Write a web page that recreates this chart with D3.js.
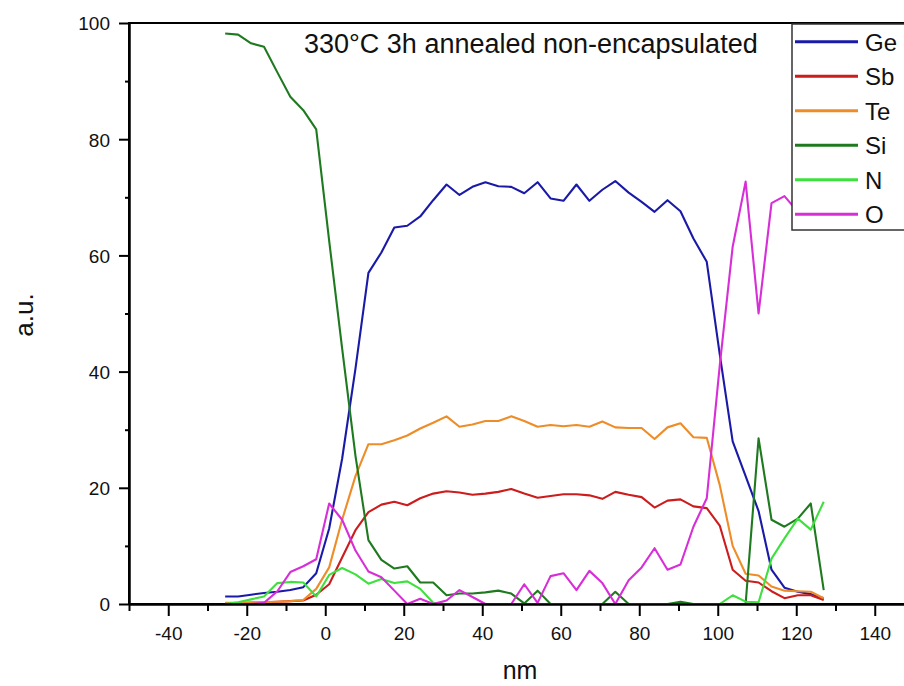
<!DOCTYPE html>
<html>
<head>
<meta charset="utf-8">
<script src="https://cdn.jsdelivr.net/npm/d3@7"></script>
<style>
  html, body { margin: 0; padding: 0; background: #fff; }
  svg { display: block; font-family: "Liberation Sans", Arial, sans-serif; }
</style>
</head>
<body>
<svg id="chart" width="904" height="686"></svg>
<script>
// ---- data ----
const depth = [-25.5,-22.2,-18.9,-15.6,-12.2,-8.9,-5.6,-2.3,1.0,4.3,7.7,11.0,14.3,17.6,20.9,24.2,27.5,30.9,34.2,37.5,40.8,44.1,47.4,50.7,54.1,57.4,60.7,64.0,67.3,70.6,73.9,77.3,80.6,83.9,87.2,90.5,93.8,97.2,100.5,103.8,107.1,110.4,113.7,117.0,120.4,123.7,127.0];

const Ge = [1.3,1.3,1.6,1.9,2.1,2.4,2.9,5.3,13,25,40.5,57,60.5,64.8,65.1,66.7,69.5,72.2,70.4,71.8,72.6,71.9,71.8,70.7,72.6,69.8,69.4,72.2,69.4,71.3,72.8,70.8,69.2,67.5,69.5,67.6,62.9,58.9,43,28,22,16,5.9,2.8,2.1,1.7,1.0];
const Sb = [0.1,0.1,0.2,0.3,0.4,0.5,0.6,1.6,3.4,8.0,12.7,15.8,17.1,17.6,17.0,18.2,19.0,19.4,19.2,18.8,19.0,19.3,19.8,19.0,18.3,18.6,18.9,18.9,18.7,18.1,19.3,18.8,18.4,16.6,17.8,18.0,16.8,16.5,13.5,5.9,4.0,3.7,2.2,1.0,1.5,1.5,0.7];
const Te = [0.2,0.2,0.3,0.3,0.4,0.5,0.7,2.6,6.3,14.5,22,27.5,27.5,28.2,29,30.2,31.2,32.3,30.5,30.9,31.5,31.5,32.3,31.5,30.5,30.8,30.6,30.8,30.5,31.4,30.4,30.3,30.3,28.4,30.4,31.1,28.7,28.6,20.5,10,5.2,4.9,3.0,2.3,2.2,2.1,1.0];
const Si = [98.2,98.0,96.5,95.9,91.5,87.3,85.0,81.7,62.5,44,25.5,11,7.6,6.1,6.5,3.7,3.7,1.5,1.8,1.8,2.0,2.3,1.8,0.1,2.3,0,0,0,0,0,2.1,0,0,0,0,0.4,0,0,0,0,0,28.5,14.5,13.3,14.7,17.3,2.4];
const N  = [0,0.3,0.8,1.3,3.6,3.8,3.7,1.3,5.0,6.2,5.1,3.5,4.3,3.6,3.9,2.6,0.2,0,0,0,0,0,0,0,0,0,0,0,0,0,0,0,0,0,0,0,0,0,0,1.5,0.4,0.3,7.8,11.3,14.7,12.8,17.6];
const O  = [0,0,0,0.2,2.2,5.5,6.5,7.7,17.3,14.5,9.2,5.6,4.6,2.3,0,0.9,0,0.6,2.4,1.2,0,0,0,3.4,0.2,4.8,5.3,2.4,5.7,3.6,0,4.1,6.3,9.6,5.9,6.8,13.3,18.2,41,61.5,72.7,50,69,70.2,67.5,66,66];

const seriesNames = ["Ge","Sb","Te","Si","N","O"];
const seriesValues = [Ge, Sb, Te, Si, N, O];
const seriesColors = ["#1a1aa8","#cc1c1c","#ee8c28","#1f7a1f","#3ee03e","#d82ed8"];

const xMajorTicks = [-40,-20,0,20,40,60,80,100,120,140];
const xMinorTicks = [-50,-30,-10,10,30,50,70,90,110,130,150];
const yMajorTicks = [0,20,40,60,80,100];
const yMinorTicks = [10,30,50,70,90];

const titleText = "330°C 3h annealed non-encapsulated";
const xLabel = "nm";
const yLabel = "a.u.";

// ---- layout ----
const svg = d3.select("#chart");
const mLeft = 129, mTop = 23, plotW = 785, plotH = 581;
const x = d3.scaleLinear().domain([-50, 150]).range([mLeft, mLeft + plotW]);
const y = d3.scaleLinear().domain([0, 100]).range([mTop + plotH, mTop]);
const fmt = d => String(d);

// frame (top + right border)
svg.append("rect")
  .attr("x", mLeft).attr("y", mTop).attr("width", plotW).attr("height", plotH)
  .attr("fill", "none").attr("stroke", "#000").attr("stroke-width", 2);

// lines
const line = d3.line().x((d, i) => x(depth[i])).y(d => y(d));
const gLines = svg.append("g");
seriesValues.forEach((vals, k) => {
  gLines.append("path")
    .datum(vals)
    .attr("d", line)
    .attr("fill", "none")
    .attr("stroke", seriesColors[k])
    .attr("stroke-width", 2.1)
    .attr("stroke-linejoin", "round");
});

// axes
const xAxis = svg.append("g").attr("transform", `translate(0,${mTop + plotH})`)
  .call(d3.axisBottom(x).tickValues(xMajorTicks).tickSize(12).tickSizeOuter(0).tickPadding(11).tickFormat(fmt));
const xAxisMinor = svg.append("g").attr("transform", `translate(0,${mTop + plotH})`)
  .call(d3.axisBottom(x).tickValues(xMinorTicks).tickSize(7).tickSizeOuter(0).tickFormat(""));
const yAxis = svg.append("g").attr("transform", `translate(${mLeft},0)`)
  .call(d3.axisLeft(y).tickValues(yMajorTicks).tickSize(10).tickSizeOuter(0).tickPadding(9).tickFormat(fmt));
const yAxisMinor = svg.append("g").attr("transform", `translate(${mLeft},0)`)
  .call(d3.axisLeft(y).tickValues(yMinorTicks).tickSize(4).tickSizeOuter(0).tickFormat(""));

[xAxis, xAxisMinor, yAxis, yAxisMinor].forEach(g => {
  g.select(".domain").attr("stroke", "#000").attr("stroke-width", 2);
  g.selectAll(".tick line").attr("stroke", "#000").attr("stroke-width", 2);
  g.selectAll(".tick text").attr("fill", "#111").style("font-size", "19px")
    .style("font-family", '"Liberation Sans", Arial, sans-serif');
});
yAxis.selectAll(".tick text").attr("dy", "0.36em");

// title
svg.append("text").attr("x", 304).attr("y", 53)
  .style("font-size", "27px").attr("fill", "#111").text(titleText);

// axis titles
svg.append("text").attr("x", 520).attr("y", 679).attr("text-anchor", "middle")
  .style("font-size", "25px").attr("fill", "#111").text(xLabel);
svg.append("text").attr("transform", "translate(33,315) rotate(-90)").attr("text-anchor", "middle")
  .style("font-size", "26px").attr("fill", "#111").text(yLabel);

// legend
const lg = svg.append("g");
lg.append("rect").attr("x", 792).attr("y", 24).attr("width", 140).attr("height", 206)
  .attr("fill", "#fff").attr("stroke", "#333").attr("stroke-width", 1.5);
seriesNames.forEach((name, k) => {
  const ly = 41.7 + k * 34.5;
  lg.append("line").attr("x1", 795).attr("x2", 858).attr("y1", ly).attr("y2", ly)
    .attr("stroke", seriesColors[k]).attr("stroke-width", 3);
  lg.append("text").attr("x", 865).attr("y", ly + 9)
    .style("font-size", "24px").attr("fill", "#111").text(name);
});
</script>
</body>
</html>
